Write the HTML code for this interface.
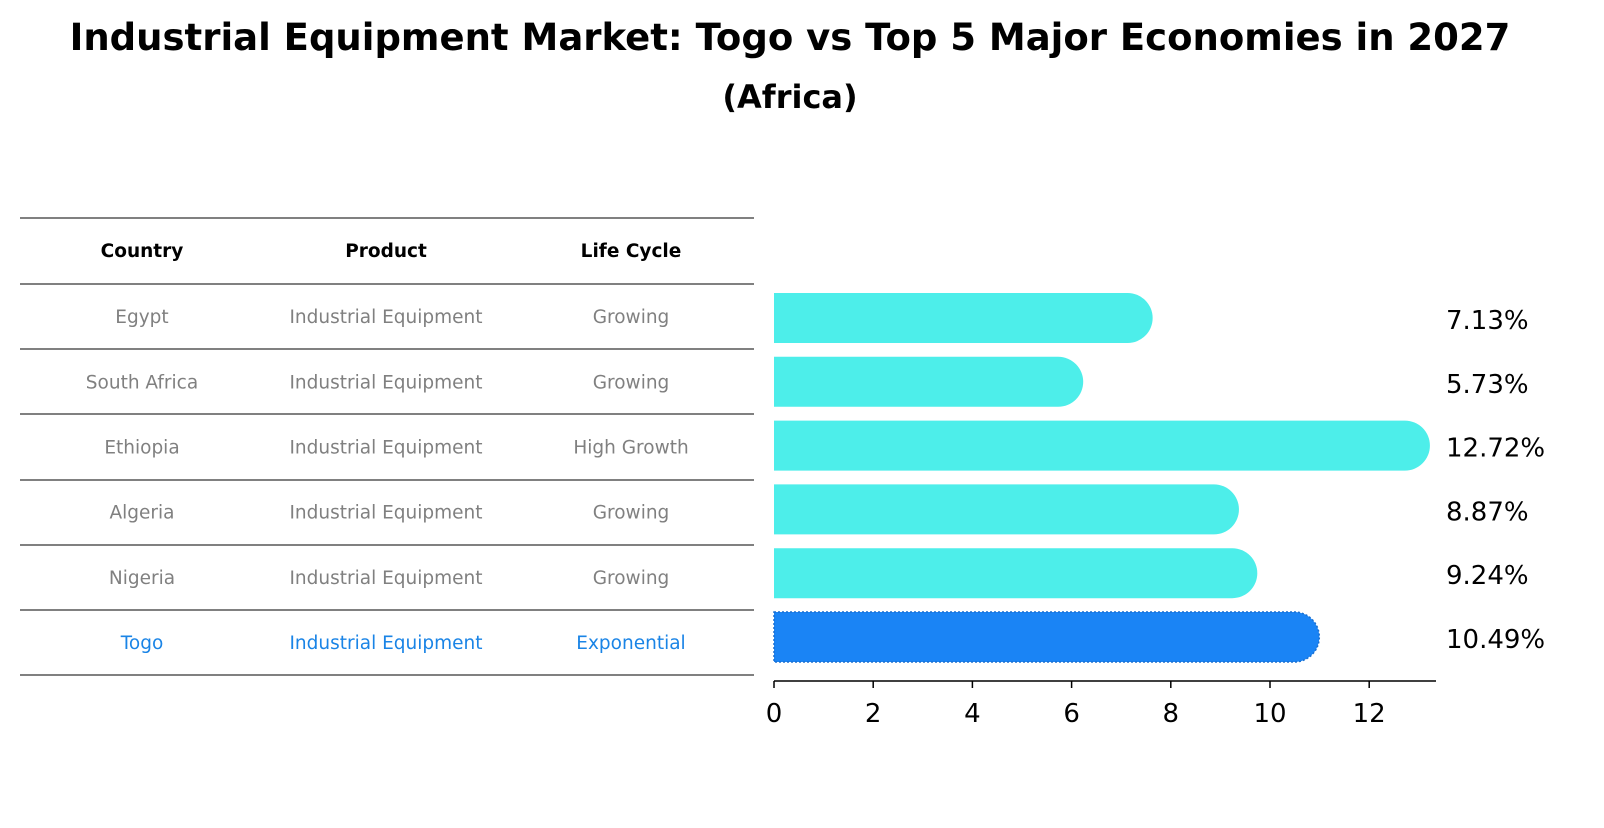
<!DOCTYPE html>
<html><head><meta charset="utf-8"><style>
body{margin:0;background:#fff;font-family:"Liberation Sans","DejaVu Sans",sans-serif}
svg text{font-family:"DejaVu Sans","Liberation Sans",sans-serif}
</style></head><body>
<svg id="chart" width="1604" height="823" viewBox="0 0 1604 823">
<text x="790" y="50" text-anchor="middle" font-size="37" font-weight="bold">Industrial Equipment Market: Togo vs Top 5 Major Economies in 2027</text>
<text x="790" y="108" text-anchor="middle" font-size="32" font-weight="bold">(Africa)</text>
<g id="table"></g>
<g id="bars"></g>
<g id="axis"></g>
</svg>
<script>
const countries=["Egypt","South Africa","Ethiopia","Algeria","Nigeria","Togo"];
const products=["Industrial Equipment","Industrial Equipment","Industrial Equipment","Industrial Equipment","Industrial Equipment","Industrial Equipment"];
const lifeCycles=["Growing","Growing","High Growth","Growing","Growing","Exponential"];
const values=[7.13,5.73,12.72,8.87,9.24,10.49];
const ticks=[0,2,4,6,8,10,12];
const NS="http://www.w3.org/2000/svg";
function mk(t,a,p){const e=document.createElementNS(NS,t);for(const k in a)e.setAttribute(k,a[k]);p.appendChild(e);return e;}
const x0=774,ppu=49.6;
const xs=v=>x0+v*ppu;
const rowY=i=>318+i*63.8;
const bh=50;
const tbl=document.getElementById('table');
const lineYs=[218,284];
for(let i=0;i<countries.length;i++)lineYs.push(Math.round(284+(i+1)*65.2));
lineYs.forEach((y,i)=>{const l=mk('line',{x1:20,x2:754,y1:y,y2:y,stroke:'#000','stroke-width':1},tbl);

});
const colX=[142,386,631];
["Country","Product","Life Cycle"].forEach((h,j)=>{const t=mk('text',{x:colX[j],y:257,'text-anchor':'middle','font-size':18.5,'font-weight':'bold'},tbl);t.textContent=h;

});
countries.forEach((c,i)=>{const y=284+i*65.2+32.6+6.5;const col=c==="Togo"?"#1a84e6":"#808080";
[c,products[i],lifeCycles[i]].forEach((v,j)=>{const t=mk('text',{x:colX[j],y:y,'text-anchor':'middle','font-size':18.5,fill:col},tbl);t.textContent=v;

});});
const bars=document.getElementById('bars');
values.forEach((v,i)=>{const cy=rowY(i),r=bh/2,xe=xs(v);const togo=countries[i]==="Togo";
const p=mk('path',{d:`M${x0},${cy-r} H${xe} A${r},${r} 0 0 1 ${xe},${cy+r} H${x0} Z`,fill:togo?'#1a84f5':'#4deeea',stroke:togo?'#1a6fd0':'none','stroke-dasharray':togo?'2,2':'none','stroke-width':togo?1.5:0},bars);


const t=mk('text',{x:1446,y:cy+11,'font-size':26},bars);t.textContent=v.toFixed(2)+'%';

});
const ax=document.getElementById('axis');
const al=mk('line',{x1:x0,x2:1436,y1:681,y2:681,stroke:'#000','stroke-width':1.5},ax);


ticks.forEach(t=>{const x=xs(t);const l=mk('line',{x1:x,x2:x,y1:681,y2:688,stroke:'#000','stroke-width':1.5},ax);


const tx=mk('text',{x:x,y:722,'text-anchor':'middle','font-size':26},ax);tx.textContent=t;

});
</script>
</body></html>
